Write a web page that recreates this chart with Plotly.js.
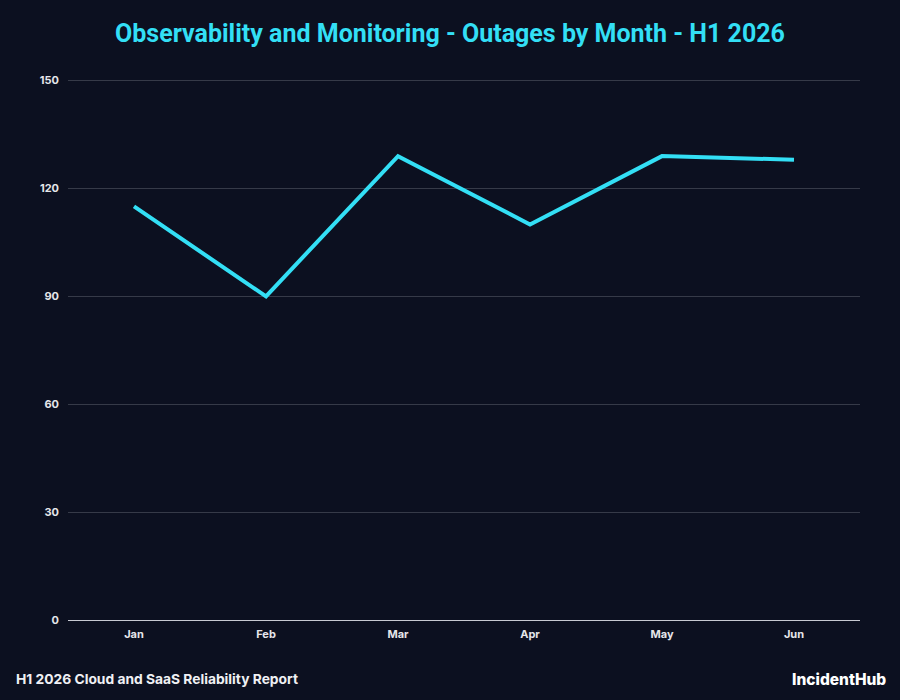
<!DOCTYPE html>
<html>
<head>
<meta charset="utf-8">
<script src="https://cdn.plot.ly/plotly-3.0.1.min.js"></script>
<style>
  html, body { margin: 0; padding: 0; background: #0c1020; }
  #chart { width: 900px; height: 700px; }
</style>
</head>
<body>
<div id="chart"></div>
<script>
// Monthly outage counts, first half of 2026
const months = ["Jan", "Feb", "Mar", "Apr", "May", "Jun"];
const outages = [115, 90, 129, 110, 129, 128];
const yTicks = [0, 30, 60, 90, 120, 150];

const bg = "#0c1020";
const accent = "#33dff5";

const trace = {
  type: "scatter",
  mode: "lines",
  x: months,
  y: outages,
  line: { color: accent, width: 4 },
  hoverinfo: "x+y"
};

// plot area: 792 x 543 px (a little headroom above 150 so its gridline shows)
const plotW = 792, plotH = 543;

const layout = {
  width: 900,
  height: 700,
  paper_bgcolor: bg,
  plot_bgcolor: bg,
  margin: { l: 68, r: 40, t: 77, b: 80 },
  showlegend: false,
  title: {
    text: "Observability and Monitoring - Outages by Month - H1 2026",
    font: { family: "Roboto, Inter, sans-serif", size: 25, color: accent, weight: 700 },
    x: 0.5, xanchor: "center",
    y: 0.953, yanchor: "middle"
  },
  xaxis: {
    type: "category",
    range: [-0.5, 5.5],
    showgrid: false,
    zeroline: false,
    showline: false,
    ticks: "",
    ticklabelstandoff: 6,
    tickfont: { family: "Inter, Roboto, sans-serif", size: 11, color: "#e6e6ea", weight: 700 },
    fixedrange: true
  },
  yaxis: {
    range: [0, 151],
    tickvals: yTicks,
    ticktext: yTicks.map(String),
    showgrid: true,
    gridcolor: "#363a48",
    gridwidth: 1,
    zeroline: true,
    zerolinecolor: "#c8cad2",
    zerolinewidth: 1,
    showline: false,
    ticks: "",
    ticklabelstandoff: 8,
    tickfont: { family: "Inter, Roboto, sans-serif", size: 11, color: "#e6e6ea", weight: 700 },
    fixedrange: true
  },
  annotations: [
    {
      text: "H1 2026 Cloud and SaaS Reliability Report",
      xref: "paper", yref: "paper",
      x: (14 - 68) / plotW, y: -59 / plotH,
      xanchor: "left", yanchor: "middle",
      showarrow: false,
      font: { family: "Inter, Roboto, sans-serif", size: 13.8, color: "#f0f0f4", weight: 700 }
    },
    {
      text: "IncidentHub",
      xref: "paper", yref: "paper",
      x: 1 + 28 / plotW, y: -59 / plotH,
      xanchor: "right", yanchor: "middle",
      showarrow: false,
      font: { family: "Inter, Roboto, sans-serif", size: 15.5, color: "#ffffff", weight: 800 }
    }
  ]
};

Plotly.newPlot("chart", [trace], layout, { displayModeBar: false, staticPlot: true });
</script>
</body>
</html>
